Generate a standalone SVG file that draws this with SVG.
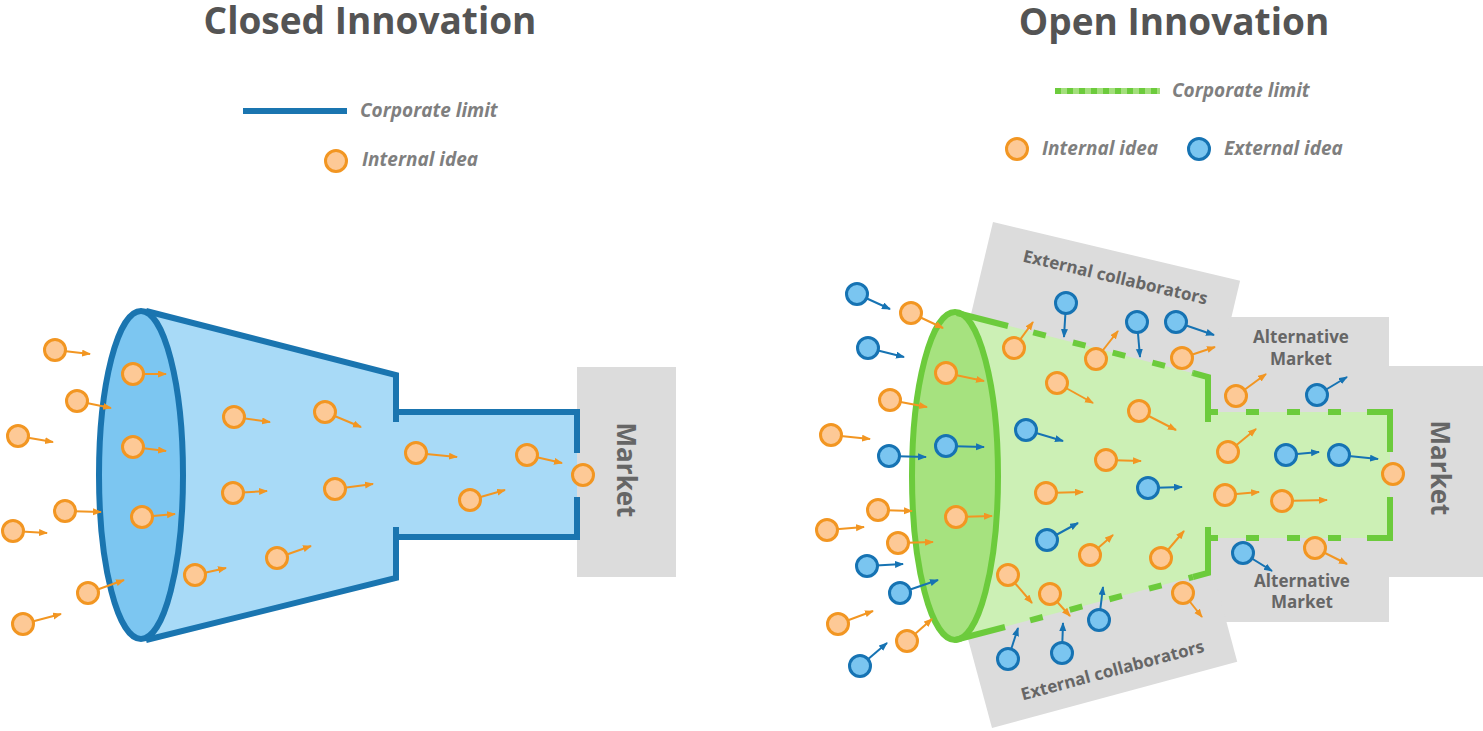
<svg xmlns="http://www.w3.org/2000/svg" width="1483" height="731" viewBox="0 0 1483 731">
<defs>
<marker id="mo" markerUnits="userSpaceOnUse" markerWidth="10" markerHeight="8" refX="8" refY="3.5" orient="auto"><path d="M0,0 L9,3.5 L0,7 z" fill="#f29622"/></marker>
<marker id="mb" markerUnits="userSpaceOnUse" markerWidth="10" markerHeight="8" refX="8" refY="3.5" orient="auto"><path d="M0,0 L9,3.5 L0,7 z" fill="#1673b3"/></marker>
<style>
text{font-family:"Open Sans","Liberation Sans",sans-serif;font-weight:700}
.title{font-size:37px;fill:#545454;text-anchor:middle}
.leg{font-size:19px;font-style:italic;fill:#7f7f7f}
.lab{font-size:17px;fill:#666;text-anchor:middle}
.mk{font-size:26px;fill:#666;text-anchor:middle}
.grey{fill:#dcdcdc}
.o{fill:#fdc996;stroke:#f29622;stroke-width:3}
.b{fill:#7ac5f0;stroke:#1673b3;stroke-width:3}
.ao{stroke:#f29622;stroke-width:2;marker-end:url(#mo)}
.ab{stroke:#1673b3;stroke-width:2;marker-end:url(#mb)}
.bl{fill:none;stroke:#1a75b0;stroke-width:6}
.gs{fill:none;stroke:#6ccb3c;stroke-width:6}
.gd{fill:none;stroke:#6ccb3c;stroke-width:6;stroke-dasharray:13 28}
</style>
</defs>
<rect width="1483" height="731" fill="#fff"/>

<g id="titles">
<text class="title" x="370" y="34">Closed Innovation</text>
<text class="title" x="1174" y="35">Open Innovation</text>
</g>

<g id="legend-closed">
<line x1="243" y1="111" x2="347" y2="111" stroke="#1a75b0" stroke-width="6"/>
<text class="leg" x="360" y="117">Corporate limit</text>
<circle class="o" cx="336" cy="161" r="10.5"/>
<text class="leg" x="362" y="166">Internal idea</text>
</g>

<g id="legend-open">
<line x1="1055" y1="91" x2="1160" y2="91" stroke="#a3df7c" stroke-width="6"/>
<line x1="1055" y1="91" x2="1160" y2="91" stroke="#6ccb3c" stroke-width="6" stroke-dasharray="6 6"/>
<text class="leg" x="1172" y="97">Corporate limit</text>
<circle class="o" cx="1017" cy="149" r="10.5"/>
<text class="leg" x="1042" y="155">Internal idea</text>
<circle class="b" cx="1199" cy="149" r="10.5"/>
<text class="leg" x="1224" y="155">External idea</text>
</g>

<g id="closed-market">
<rect class="grey" x="577" y="367" width="99" height="210"/>
<text class="mk" transform="translate(617,470) rotate(90)">Market</text>
</g>

<g id="closed-funnel">
<path d="M142,310 L396,375 L396,412 L577,412 L577,537 L396,537 L396,577 L142,640 Z" fill="#a8daf7"/>
<ellipse cx="141" cy="475" rx="42" ry="164" fill="#7cc6f1" stroke="#1a75b0" stroke-width="6"/>
<path class="bl" d="M146,311 L396,375 L396,422 M396,412 L577,412 L577,453 M577,497 L577,537 L396,537 M396,527 L396,578 L146,640"/>
</g>

<g id="open-areas">
<rect class="grey" x="1200" y="317" width="189" height="305"/>
<rect class="grey" x="1389" y="366" width="94" height="211"/>
<rect class="grey" x="0" y="0" width="254" height="170" transform="translate(993,222) rotate(13.4)"/>
<rect class="grey" x="0" y="-170" width="254" height="170" transform="translate(992,728) rotate(-15.1)"/>
<text class="lab" transform="translate(1114,283) rotate(13.2)">External collaborators</text>
<text class="lab" transform="translate(1114,676) rotate(-15)">External collaborators</text>
<text class="lab" x="1301" y="343">Alternative</text>
<text class="lab" x="1301" y="365">Market</text>
<text class="lab" x="1302" y="587">Alternative</text>
<text class="lab" x="1302" y="608">Market</text>
<text class="mk" transform="translate(1431,468) rotate(90)">Market</text>
</g>

<g id="open-funnel">
<path d="M955,312 L1208,377 L1208,412 L1390,412 L1390,538 L1208,538 L1208,573 L955,640 Z" fill="#ccf0b5"/>
<ellipse cx="955" cy="476" rx="43" ry="164" fill="#a6e27f" stroke="#6ccb3c" stroke-width="6"/>
<path class="gs" d="M957,313 L1008,326 M1193,373 L1208,377 L1208,422 M1208,412 L1216,412 M1367,412 L1390,412 L1390,452 M1390,497 L1390,538 L1367,538 M1216,538 L1208,538 M1208,527 L1208,573 L1193,577 M1005,627 L955,640"/>
<path class="gd" stroke-dashoffset="15" d="M1008,326 L1193,373"/>
<path class="gd" stroke-dashoffset="11" d="M1216,412 L1367,412"/>
<path class="gd" stroke-dashoffset="11" d="M1216,538 L1367,538"/>
<path class="gd" stroke-dashoffset="15" d="M1005,627 L1193,577"/>
</g>

<g id="connectors">
<line class="ao" x1="55" y1="350" x2="90" y2="354"/>
<line class="ao" x1="133" y1="374" x2="166" y2="374"/>
<line class="ao" x1="77" y1="401" x2="111" y2="408"/>
<line class="ao" x1="18" y1="436" x2="53" y2="442"/>
<line class="ao" x1="133" y1="447" x2="166" y2="451"/>
<line class="ao" x1="234" y1="417" x2="270" y2="422"/>
<line class="ao" x1="325" y1="412" x2="361" y2="427"/>
<line class="ao" x1="65" y1="511" x2="101" y2="512"/>
<line class="ao" x1="13" y1="531" x2="47" y2="533"/>
<line class="ao" x1="142" y1="517" x2="175" y2="514"/>
<line class="ao" x1="233" y1="493" x2="267" y2="491"/>
<line class="ao" x1="335" y1="489" x2="373" y2="484"/>
<line class="ao" x1="88" y1="593" x2="124" y2="580"/>
<line class="ao" x1="23" y1="624" x2="61" y2="614"/>
<line class="ao" x1="195" y1="575" x2="226" y2="568"/>
<line class="ao" x1="277" y1="558" x2="311" y2="546"/>
<line class="ao" x1="416" y1="453" x2="457" y2="457"/>
<line class="ao" x1="527" y1="455" x2="562" y2="463"/>
<line class="ao" x1="470" y1="500" x2="505" y2="490"/>

<line class="ao" x1="911" y1="313" x2="943" y2="328"/>
<line class="ao" x1="946" y1="373" x2="984" y2="381"/>
<line class="ao" x1="890" y1="400" x2="927" y2="407"/>
<line class="ao" x1="831" y1="435" x2="870" y2="439"/>
<line class="ao" x1="1014" y1="348" x2="1033" y2="322"/>
<line class="ao" x1="1096" y1="359" x2="1118" y2="331"/>
<line class="ao" x1="1182" y1="358" x2="1215" y2="347"/>
<line class="ao" x1="1057" y1="383" x2="1093" y2="403"/>
<line class="ao" x1="1139" y1="411" x2="1176" y2="430"/>
<line class="ao" x1="1106" y1="460" x2="1141" y2="461"/>
<line class="ao" x1="1236" y1="396" x2="1266" y2="374"/>
<line class="ao" x1="1228" y1="452" x2="1256" y2="429"/>
<line class="ao" x1="1225" y1="495" x2="1259" y2="492"/>
<line class="ao" x1="1282" y1="501" x2="1327" y2="500"/>
<line class="ao" x1="1315" y1="548" x2="1347" y2="564"/>
<line class="ao" x1="1183" y1="593" x2="1202" y2="617"/>
<line class="ao" x1="1046" y1="493" x2="1083" y2="492"/>
<line class="ao" x1="1090" y1="555" x2="1113" y2="535"/>
<line class="ao" x1="1161" y1="558" x2="1184" y2="531"/>
<line class="ao" x1="1008" y1="575" x2="1032" y2="603"/>
<line class="ao" x1="1050" y1="594" x2="1070" y2="616"/>
<line class="ao" x1="956" y1="517" x2="992" y2="516"/>
<line class="ao" x1="878" y1="510" x2="912" y2="511"/>
<line class="ao" x1="827" y1="530" x2="864" y2="527"/>
<line class="ao" x1="898" y1="543" x2="933" y2="542"/>
<line class="ao" x1="838" y1="624" x2="873" y2="611"/>
<line class="ao" x1="907" y1="641" x2="932" y2="619"/>

<line class="ab" x1="857" y1="294" x2="890" y2="309"/>
<line class="ab" x1="868" y1="348" x2="904" y2="357"/>
<line class="ab" x1="889" y1="456" x2="926" y2="457"/>
<line class="ab" x1="946" y1="446" x2="984" y2="447"/>
<line class="ab" x1="1066" y1="303" x2="1064" y2="337"/>
<line class="ab" x1="1137" y1="322" x2="1140" y2="357"/>
<line class="ab" x1="1176" y1="322" x2="1214" y2="335"/>
<line class="ab" x1="1026" y1="430" x2="1063" y2="441"/>
<line class="ab" x1="1148" y1="488" x2="1182" y2="487"/>
<line class="ab" x1="1047" y1="540" x2="1078" y2="523"/>
<line class="ab" x1="1099" y1="620" x2="1103" y2="587"/>
<line class="ab" x1="1008" y1="659" x2="1018" y2="628"/>
<line class="ab" x1="1062" y1="653" x2="1063" y2="623"/>
<line class="ab" x1="867" y1="566" x2="903" y2="564"/>
<line class="ab" x1="900" y1="593" x2="938" y2="580"/>
<line class="ab" x1="860" y1="666" x2="887" y2="643"/>
<line class="ab" x1="1317" y1="395" x2="1347" y2="377"/>
<line class="ab" x1="1286" y1="455" x2="1319" y2="452"/>
<line class="ab" x1="1339" y1="455" x2="1378" y2="459"/>
<line class="ab" x1="1243" y1="553" x2="1272" y2="571"/>
</g>

<g id="internal-ideas">
<circle class="o" cx="55" cy="350" r="10.5"/>
<circle class="o" cx="133" cy="374" r="10.5"/>
<circle class="o" cx="77" cy="401" r="10.5"/>
<circle class="o" cx="18" cy="436" r="10.5"/>
<circle class="o" cx="133" cy="447" r="10.5"/>
<circle class="o" cx="234" cy="417" r="10.5"/>
<circle class="o" cx="325" cy="412" r="10.5"/>
<circle class="o" cx="65" cy="511" r="10.5"/>
<circle class="o" cx="13" cy="531" r="10.5"/>
<circle class="o" cx="142" cy="517" r="10.5"/>
<circle class="o" cx="233" cy="493" r="10.5"/>
<circle class="o" cx="335" cy="489" r="10.5"/>
<circle class="o" cx="88" cy="593" r="10.5"/>
<circle class="o" cx="23" cy="624" r="10.5"/>
<circle class="o" cx="195" cy="575" r="10.5"/>
<circle class="o" cx="277" cy="558" r="10.5"/>
<circle class="o" cx="416" cy="453" r="10.5"/>
<circle class="o" cx="527" cy="455" r="10.5"/>
<circle class="o" cx="470" cy="500" r="10.5"/>
<circle class="o" cx="583" cy="475" r="10.5"/>

<circle class="o" cx="911" cy="313" r="10.5"/>
<circle class="o" cx="946" cy="373" r="10.5"/>
<circle class="o" cx="890" cy="400" r="10.5"/>
<circle class="o" cx="831" cy="435" r="10.5"/>
<circle class="o" cx="1014" cy="348" r="10.5"/>
<circle class="o" cx="1096" cy="359" r="10.5"/>
<circle class="o" cx="1182" cy="358" r="10.5"/>
<circle class="o" cx="1057" cy="383" r="10.5"/>
<circle class="o" cx="1139" cy="411" r="10.5"/>
<circle class="o" cx="1106" cy="460" r="10.5"/>
<circle class="o" cx="1236" cy="396" r="10.5"/>
<circle class="o" cx="1228" cy="452" r="10.5"/>
<circle class="o" cx="1225" cy="495" r="10.5"/>
<circle class="o" cx="1282" cy="501" r="10.5"/>
<circle class="o" cx="1315" cy="548" r="10.5"/>
<circle class="o" cx="1183" cy="593" r="10.5"/>
<circle class="o" cx="1393" cy="474" r="10.5"/>
<circle class="o" cx="1046" cy="493" r="10.5"/>
<circle class="o" cx="1090" cy="555" r="10.5"/>
<circle class="o" cx="1161" cy="558" r="10.5"/>
<circle class="o" cx="1008" cy="575" r="10.5"/>
<circle class="o" cx="1050" cy="594" r="10.5"/>
<circle class="o" cx="956" cy="517" r="10.5"/>
<circle class="o" cx="878" cy="510" r="10.5"/>
<circle class="o" cx="827" cy="530" r="10.5"/>
<circle class="o" cx="898" cy="543" r="10.5"/>
<circle class="o" cx="838" cy="624" r="10.5"/>
<circle class="o" cx="907" cy="641" r="10.5"/>
</g>

<g id="external-ideas">
<circle class="b" cx="857" cy="294" r="10.5"/>
<circle class="b" cx="868" cy="348" r="10.5"/>
<circle class="b" cx="889" cy="456" r="10.5"/>
<circle class="b" cx="946" cy="446" r="10.5"/>
<circle class="b" cx="1066" cy="303" r="10.5"/>
<circle class="b" cx="1137" cy="322" r="10.5"/>
<circle class="b" cx="1176" cy="322" r="10.5"/>
<circle class="b" cx="1026" cy="430" r="10.5"/>
<circle class="b" cx="1148" cy="488" r="10.5"/>
<circle class="b" cx="1047" cy="540" r="10.5"/>
<circle class="b" cx="1099" cy="620" r="10.5"/>
<circle class="b" cx="1008" cy="659" r="10.5"/>
<circle class="b" cx="1062" cy="653" r="10.5"/>
<circle class="b" cx="867" cy="566" r="10.5"/>
<circle class="b" cx="900" cy="593" r="10.5"/>
<circle class="b" cx="860" cy="666" r="10.5"/>
<circle class="b" cx="1317" cy="395" r="10.5"/>
<circle class="b" cx="1286" cy="455" r="10.5"/>
<circle class="b" cx="1339" cy="455" r="10.5"/>
<circle class="b" cx="1243" cy="553" r="10.5"/>
</g>
</svg>
